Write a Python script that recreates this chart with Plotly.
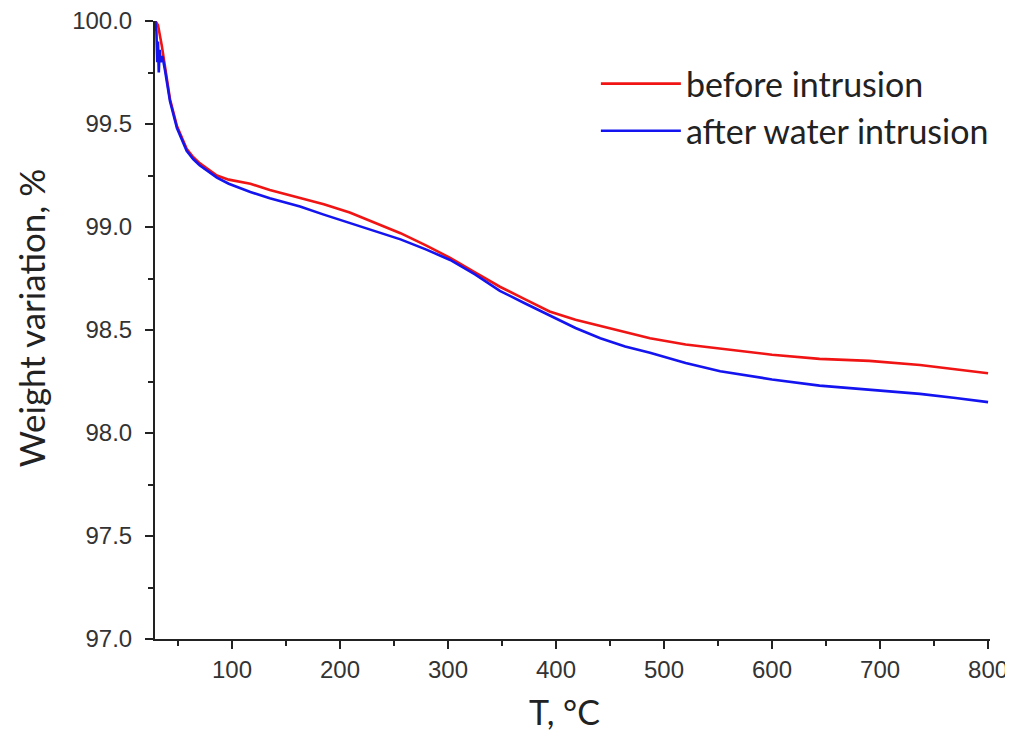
import plotly.graph_objects as go

# Temperature (°C) and weight (%)
t_before = [29, 31.5, 35, 38, 42.6, 49, 54, 58, 64, 70, 78, 86, 97, 107, 117, 135,
            163, 185, 209, 232, 256, 280, 302, 325, 348, 371, 394, 418, 441, 464,
            487, 520, 552, 600, 644, 690, 737, 770, 800]
w_before = [100.0, 99.98, 99.88, 99.78, 99.62, 99.49, 99.43, 99.38, 99.34, 99.31,
            99.28, 99.25, 99.23, 99.22, 99.21, 99.18, 99.14, 99.11, 99.07, 99.02,
            98.97, 98.91, 98.85, 98.78, 98.71, 98.65, 98.59, 98.55, 98.52, 98.49,
            98.46, 98.43, 98.41, 98.38, 98.36, 98.35, 98.33, 98.31, 98.29]

t_after = [29, 30, 30.8, 31.5, 32.2, 33, 34, 35.5, 38, 42.6, 49, 54, 58, 64, 70, 78,
           86, 97, 107, 117, 135, 163, 185, 209, 232, 256, 280, 302, 325, 348, 371,
           394, 418, 441, 464, 487, 520, 552, 600, 644, 690, 737, 770, 800]
w_after = [100.0, 99.95, 99.80, 99.90, 99.75, 99.86, 99.80, 99.83, 99.76, 99.61,
           99.48, 99.42, 99.37, 99.33, 99.30, 99.27, 99.24, 99.21, 99.19, 99.17,
           99.14, 99.10, 99.06, 99.02, 98.98, 98.94, 98.89, 98.84, 98.77, 98.69,
           98.63, 98.57, 98.51, 98.46, 98.42, 98.39, 98.34, 98.30, 98.26, 98.23,
           98.21, 98.19, 98.17, 98.15]

series_names = ["before intrusion", "after water intrusion"]
x_ticks = [100, 200, 300, 400, 500, 600, 700, 800]
y_ticks = [97.0, 97.5, 98.0, 98.5, 99.0, 99.5, 100.0]
x_title = "T, °C"
y_title = "Weight variation, %"

fig = go.Figure()
fig.add_trace(go.Scatter(x=t_before, y=w_before, mode="lines", name=series_names[0],
                         line=dict(color="#f01414", width=2.6)))
fig.add_trace(go.Scatter(x=t_after, y=w_after, mode="lines", name=series_names[1],
                         line=dict(color="#1414f0", width=2.6)))

tick_font = dict(family="Liberation Sans, Arial, sans-serif", size=24, color="#333333")
title_font = dict(family="Lato, 'Open Sans', sans-serif", size=34, color="#222222")
legend_font = dict(family="Lato, 'Open Sans', sans-serif", size=34, color="#222222")

axis_common = dict(showgrid=False, zeroline=False, showline=True, linecolor="#222222",
                   linewidth=2, ticks="outside", ticklen=8, tickwidth=2,
                   tickcolor="#222222", tickfont=tick_font, automargin=False,
                   ticklabeloverflow="allow")

# The page body has an 8px default margin, so the figure is sized to fit the window.
fig.update_layout(
    width=1003, height=728,
    margin=dict(l=147, r=21, t=13, b=97),
    paper_bgcolor="white", plot_bgcolor="white",
    showlegend=True,
    legend=dict(x=0.528, y=0.945, xanchor="left", yanchor="top",
                bgcolor="rgba(0,0,0,0)", font=legend_font, tracegroupgap=0,
                itemwidth=80),
    xaxis=dict(range=[28.7, 801.8], tickvals=x_ticks,
               ticktext=[str(v) for v in x_ticks],
               minor=dict(ticks="outside", ticklen=5, tickwidth=2, tickcolor="#222222",
                          dtick=50, tick0=0),
               **axis_common),
    yaxis=dict(range=[97.0, 100.0], tickvals=y_ticks,
               ticktext=[f"{v:.1f}" for v in y_ticks],
               ticklabelstandoff=8,
               minor=dict(ticks="outside", ticklen=5, tickwidth=2, tickcolor="#222222",
                          dtick=0.25, tick0=0),
               **axis_common),
    annotations=[
        dict(text=x_title, xref="paper", yref="paper", x=0.491, y=-0.118,
             xanchor="center", yanchor="middle", showarrow=False, font=title_font),
        dict(text=y_title, xref="paper", yref="paper", x=-0.1485, y=0.519,
             xanchor="center", yanchor="middle", textangle=-90, showarrow=False,
             font=dict(family="Lato, 'Open Sans', sans-serif", size=35, color="#222222")),
    ],
)

fig.write_html("out.html")
